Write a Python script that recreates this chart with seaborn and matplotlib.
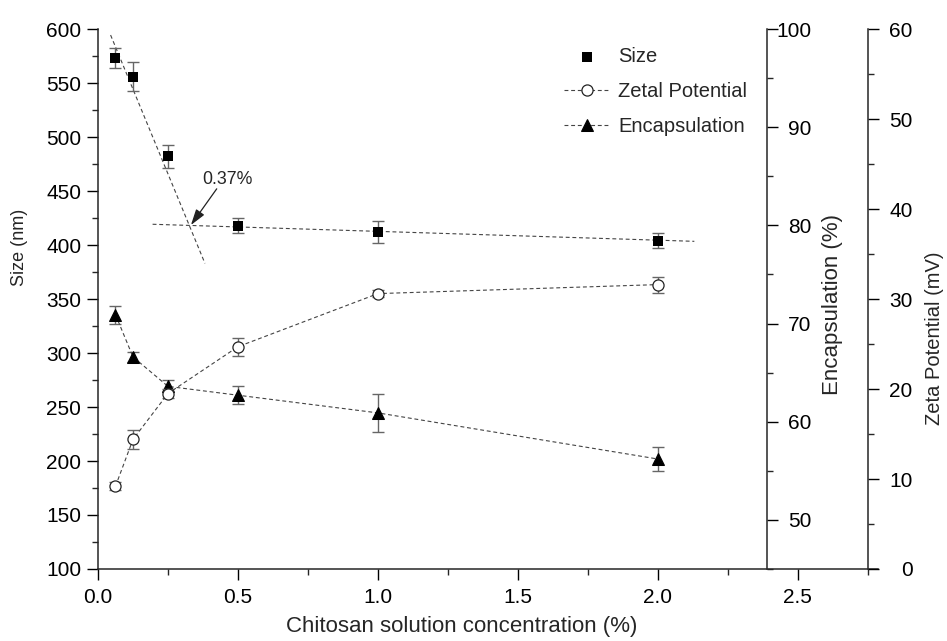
import matplotlib
matplotlib.use("Agg")
import matplotlib.pyplot as plt
from matplotlib.ticker import MultipleLocator
import seaborn as sns
import pandas as pd

# ---------------- data ----------------
conc = [0.0625, 0.125, 0.25, 0.5, 1.0, 2.0]
size_nm = [573, 556, 482, 418, 412, 404]
size_err = [9, 13.5, 11, 7, 10, 7]
zeta_mv = [9.2, 14.4, 19.5, 24.7, 30.6, 31.6]
zeta_err = [0.45, 1.1, 0.55, 1.0, 0.4, 0.9]
encap_pct = [70.9, 66.6, 63.6, 62.7, 60.9, 56.2]
encap_err = [0.9, 0.5, 0.6, 0.9, 1.9, 1.2]

# fitted trend lines for size (break point annotation)
steep_x = [0.045, 0.382]
steep_y = [594.4, 383.0]
flat_x = [0.195, 2.13]
flat_y = [419.2, 403.4]
break_label = "0.37%"
break_head = (0.332, 418.5)
break_tail = (0.424, 452.0)
break_text = (0.464, 461.0)

x_ticks = [0.0, 0.5, 1.0, 1.5, 2.0, 2.5]
size_ticks = [100, 150, 200, 250, 300, 350, 400, 450, 500, 550, 600]
encap_ticks = [50, 60, 70, 80, 90, 100]
zeta_ticks = [0, 10, 20, 30, 40, 50, 60]

df = pd.DataFrame({"conc": conc, "size": size_nm, "zeta": zeta_mv, "encap": encap_pct})

# ---------------- style ----------------
sns.set_theme(style="ticks")
plt.rcParams["font.family"] = ["Liberation Sans", "DejaVu Sans"]
plt.rcParams["axes.linewidth"] = 1.1

FS_TICK = 15
FS_LEG = 14.5
W, H = 947, 641
fig = plt.figure(figsize=(W / 100, H / 100), dpi=100)
ax = fig.add_axes([98 / W, 1 - 569 / H, 780 / W, 540 / H])
ax_enc = ax.twinx()
ax_z = ax.twinx()

line_col = "#444444"
err_col = "#666666"
dash = (0, (3.5, 2.5))

# ---- size ----
ax.plot(steep_x, steep_y, color=line_col, lw=0.8, linestyle=dash, zorder=2)
ax.plot(flat_x, flat_y, color=line_col, lw=0.8, linestyle=dash, zorder=2)
ax.errorbar(conc, size_nm, yerr=size_err, fmt="none", ecolor=err_col,
            elinewidth=1.0, capsize=4, capthick=1.0, zorder=3)
sns.scatterplot(data=df, x="conc", y="size", marker="s", s=62, color="black",
                edgecolor="black", linewidth=0, ax=ax, zorder=4, label="Size", legend=False)

# ---- encapsulation ----
ax_enc.errorbar(conc, encap_pct, yerr=encap_err, fmt="none", ecolor=err_col,
                elinewidth=1.0, capsize=4, capthick=1.0, zorder=3)
sns.lineplot(data=df, x="conc", y="encap", ax=ax_enc, color=line_col, lw=0.8,
             linestyle=dash, marker="^", markersize=9, markerfacecolor="black",
             markeredgecolor="black", sort=False, errorbar=None,
             label="Encapsulation", legend=False, zorder=4)

# ---- zeta ----
ax_z.errorbar(conc, zeta_mv, yerr=zeta_err, fmt="none", ecolor=err_col,
              elinewidth=1.0, capsize=4, capthick=1.0, zorder=3)
sns.lineplot(data=df, x="conc", y="zeta", ax=ax_z, color=line_col, lw=0.8,
             linestyle=dash, marker="o", markersize=8, markerfacecolor="white",
             markeredgecolor="#222222", markeredgewidth=0.9, sort=False, errorbar=None,
             label="Zetal Potential", legend=False, zorder=4)

# ---- annotation ----
ax.annotate("", xy=break_head, xytext=break_tail,
            arrowprops=dict(arrowstyle="-|>,head_length=0.8,head_width=0.25",
                            color="#222222", lw=0.9, shrinkA=0, shrinkB=0))
ax.text(break_text[0], break_text[1], break_label, fontsize=12.8, ha="center", va="center")

# ---------------- axes ----------------
ax.set_xlim(0, 2.786)
ax.set_ylim(100, 600)
ax_enc.set_ylim(45, 100)
ax_z.set_ylim(0, 60)

ax.set_xticks(x_ticks)
ax.set_xticklabels([f"{v:.1f}" for v in x_ticks])
ax.xaxis.set_minor_locator(MultipleLocator(0.25))
ax.set_yticks(size_ticks)
ax.yaxis.set_minor_locator(MultipleLocator(25))
ax_enc.set_yticks(encap_ticks)
ax_enc.yaxis.set_minor_locator(MultipleLocator(5))
ax_z.set_yticks(zeta_ticks)
ax_z.yaxis.set_minor_locator(MultipleLocator(5))

for a in (ax, ax_enc, ax_z):
    a.spines["top"].set_visible(False)
    a.tick_params(which="major", length=8, width=1.0, labelsize=FS_TICK, colors="black")
    a.tick_params(which="minor", length=4, width=1.0)
    a.set_facecolor("none")
ax.spines["right"].set_visible(False)
for a in (ax_enc, ax_z):
    a.spines["left"].set_visible(False)
    a.spines["bottom"].set_visible(False)
    a.tick_params(axis="x", which="both", bottom=False, labelbottom=False)
ax.patch.set_facecolor("white")

ax_enc.spines["right"].set_position(("axes", (767 - 98) / 780))
ax_z.spines["right"].set_position(("axes", (868 - 98) / 780))

ax.tick_params(axis="y", pad=4)
ax.tick_params(axis="x", pad=6)
for a in (ax_enc, ax_z):
    a.tick_params(axis="y", which="major", pad=24)
    plt.setp(a.get_yticklabels(), ha="right")

ax.set_xlabel("Chitosan solution concentration (%)", fontsize=16)
ax.xaxis.set_label_coords((462 - 98) / 780, -0.087)
ax.set_ylabel("Size (nm)", fontsize=13)
ax.yaxis.set_label_coords((28 - 98) / 780, (569 - 247) / 540)
ax_enc.set_ylabel("Encapsulation (%)", fontsize=16)
ax_enc.yaxis.set_label_coords((822 - 98) / 780, 0.489)
ax_z.set_ylabel("Zeta Potential (mV)", fontsize=14.5)
ax_z.yaxis.set_label_coords((925 - 98) / 780, (569 - 338) / 540)

# ---------------- legend ----------------
handles, labels = [], []
for a in (ax, ax_z, ax_enc):
    h, l = a.get_legend_handles_labels()
    handles += h
    labels += l
ax_z.legend(handles, labels, loc="upper left", bbox_to_anchor=(564 / W, 1 - 47 / H),
            bbox_transform=fig.transFigure, frameon=False, fontsize=FS_LEG,
            handlelength=2.3, handletextpad=0.4, labelspacing=0.8,
            borderpad=0, borderaxespad=0)

fig.savefig("out.png", dpi=100, facecolor="white")
